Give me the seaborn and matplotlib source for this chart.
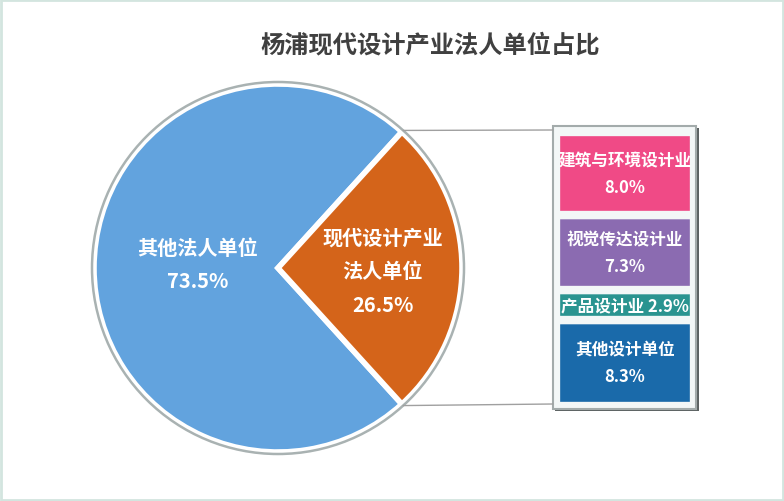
import matplotlib.pyplot as plt
import numpy as np
import seaborn as sns
from matplotlib.patches import Circle, Rectangle

# pie data
pie_labels = ['其他法人单位', '现代设计产业\n法人单位']
pie_values = [73.5, 26.5]
pie_colors = ['#62a3de', '#d4641a']

# breakdown of the design share (top to bottom)
bar_labels = ['建筑与环境设计业', '视觉传达设计业', '产品设计业', '其他设计单位']
bar_values = [8.0, 7.3, 2.9, 8.3]
bar_colors = ['#f04a86', '#8b6bb1', '#2a9490', '#1a6aaa']

TITLE = '杨浦现代设计产业法人单位占比'
W, H = 784, 502


def py(y):
    # pixel row -> data y (axes runs bottom-up)
    return H - y


def main():
    sns.set_theme(style='white')
    plt.rcParams['font.family'] = ['Noto Sans CJK SC', 'DejaVu Sans']

    fig = plt.figure(figsize=(W / 100, H / 100), dpi=100)
    ax = fig.add_axes([0, 0, 1, 1])

    # light outer frame
    ax.add_patch(Rectangle((1, 1), W - 2, H - 2, fill=False, edgecolor='#d3e5df', lw=2))

    ax.text(430, py(45), TITLE, ha='center', va='center', fontsize=17.5,
            fontweight='bold', color='#404040')

    cx, cy, r = 278, py(269), 184
    start = pie_values[1] / 2 * 3.6
    ax.pie(pie_values, colors=pie_colors, startangle=start, radius=r,
           center=(cx, cy), frame=True,
           wedgeprops=dict(edgecolor='white', linewidth=4))
    ax.set_xlim(0, W)
    ax.set_ylim(0, H)
    ax.set_aspect('equal')
    ax.axis('off')
    ax.add_patch(Circle((cx, cy), r + 2, fill=False, edgecolor='#a9b2b2', lw=1.8))

    ax.text(198, py(265), f'{pie_labels[0]}\n{pie_values[0]:.1f}%', ha='center',
            va='center', fontsize=14.5, fontweight='bold', color='white', linespacing=1.75)
    ax.text(383, py(272), f'{pie_labels[1]}\n{pie_values[1]:.1f}%', ha='center',
            va='center', fontsize=14.5, fontweight='bold', color='white', linespacing=1.75)

    # connector lines from wedge tips to the breakdown box
    half = np.deg2rad(start)
    for sgn, ybox in [(1, 131), (-1, 405)]:
        tx = cx + (r + 2) * np.cos(half)
        ty = cy + sgn * (r + 2) * np.sin(half)
        ax.plot([tx, 553], [ty, py(ybox)], color='#a0a0a0', lw=1)

    # breakdown box with shadow
    ax.add_patch(Rectangle((555, py(412)), 144, 283, facecolor='#5c6262', edgecolor='none'))
    ax.add_patch(Rectangle((553, py(410)), 143, 283, facecolor='#f3f7f7',
                           edgecolor='#a3abab', lw=1.5))

    bax = fig.add_axes([556 / W, py(407) / H, 138 / W, 274 / H])
    vals = bar_values[::-1]
    cols = bar_colors[::-1]
    bottoms = np.concatenate([[0], np.cumsum(vals)[:-1]])
    bax.bar(np.zeros(len(vals)), vals, bottom=bottoms, width=1, color=cols,
            edgecolor='#f3f7f7', linewidth=6)
    bax.set_xlim(-0.5, 0.5)
    bax.set_ylim(0, sum(vals))
    bax.axis('off')
    bax.patch.set_alpha(0)

    names = bar_labels[::-1]
    for name, v, b in zip(names, vals, bottoms):
        mid = b + v / 2
        if v < 4:
            txt = f'{name} {v:.1f}%'
        else:
            txt = f'{name}\n{v:.1f}%'
        bax.text(0.0, mid, txt, ha='center', va='center', fontsize=12,
                 fontweight='bold', color='white', linespacing=1.6)

    fig.savefig('out.png', dpi=100)
    plt.close(fig)


if __name__ == '__main__':
    main()
